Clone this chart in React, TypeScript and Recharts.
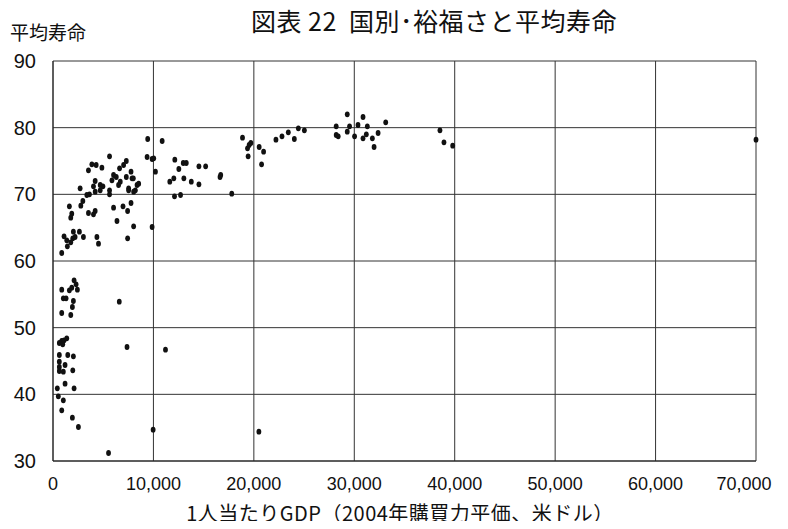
import { ScatterChart, Scatter, XAxis, YAxis, CartesianGrid } from "recharts";

// 1人当たりGDP (2004年購買力平価、米ドル) と平均寿命 — 国別
const gdpPerCapita = [
  // high income
  9430, 10870, 9370, 9870, 10200, 12130, 12530, 12970, 13270, 11630, 12030, 13030,
  13770, 14530, 14530, 15200, 12100, 12700, 16630, 16700, 17800, 18870, 19370, 19530,
  19700, 19430, 20530, 20970, 20770, 22200, 22800, 23430, 24030, 24430, 25030, 28200,
  28200, 28400, 29300, 29530, 29300, 30030, 30370, 30870, 31300, 31200, 30870, 31800,
  31970, 32370, 33130, 38530, 38930, 39800, 70000,
  // 70s
  5630, 3870, 4300, 4870, 3530, 7300, 7030, 6630, 7770, 6030, 6300, 7300, 7870, 8000,
  5870, 6700, 6530, 4200, 4700, 4970, 4030, 2700, 3630, 4200, 4700, 5630, 5630, 7530,
  8370, 8200, 8530, 8030, 7530, 10030, 3370,
  // 60s
  2970, 2770, 1630, 1870, 1770, 3530, 4030, 4200, 6030, 6970, 7430, 7770, 6370, 8030,
  9870, 7430, 1100, 1370, 1430, 1770, 1970, 2200, 2030, 2630, 3030, 4370, 4530, 870,
  // 50s
  2100, 2300, 2430, 1870, 1630, 870, 1030, 1300, 2030, 1930, 1770, 870, 6600,
  // 30s-40s
  630, 870, 1100, 1370, 970, 7370, 11200, 630, 1470, 2030, 630, 630, 630, 1200, 1030,
  1970, 1200, 2100, 430, 530, 1030, 870, 1930, 2530, 5530, 9970, 20500,
];

const lifeExpectancy = [
  78.3, 78.0, 75.6, 75.3, 73.4, 75.2, 73.8, 74.7, 74.7, 71.9, 72.4, 72.4,
  71.9, 71.5, 74.2, 74.2, 69.7, 69.9, 72.6, 72.9, 70.1, 78.5, 76.9, 77.4,
  77.7, 75.7, 77.1, 76.4, 74.5, 78.2, 78.7, 79.3, 78.3, 79.9, 79.6, 80.2,
  78.9, 78.7, 82.0, 80.2, 79.4, 78.7, 80.4, 81.6, 80.2, 79.0, 78.4, 78.4,
  77.1, 79.2, 80.8, 79.6, 77.8, 77.3, 78.2,
  75.7, 74.5, 74.4, 74.0, 73.6, 75.0, 74.4, 73.9, 73.4, 72.9, 72.6, 72.6, 72.4, 72.4,
  72.1, 71.9, 71.4, 72.0, 71.4, 71.2, 71.2, 70.9, 70.0, 70.4, 70.6, 70.6, 70.0, 70.9,
  71.4, 70.6, 71.6, 70.4, 70.6, 75.4, 69.9,
  69.0, 68.3, 68.2, 67.1, 66.5, 67.2, 67.0, 67.5, 68.0, 68.2, 67.5, 68.7, 66.0, 65.2,
  65.1, 63.4, 63.7, 63.1, 62.2, 62.8, 63.4, 63.6, 64.4, 64.4, 63.6, 63.6, 62.6, 61.2,
  57.1, 56.5, 55.7, 56.0, 55.6, 55.7, 54.4, 54.4, 54.0, 53.1, 51.9, 52.2, 53.9,
  47.7, 48.0, 48.1, 48.4, 47.5, 47.1, 46.7, 45.9, 45.9, 45.7, 44.9, 44.1, 43.5, 44.4, 43.4,
  43.6, 41.6, 40.9, 40.9, 39.7, 39.1, 37.6, 36.5, 35.1, 31.2, 34.7, 34.4,
];

const xTicks = [0, 10000, 20000, 30000, 40000, 50000, 60000, 70000];
const yTicks = [30, 40, 50, 60, 70, 80, 90];

const data = gdpPerCapita.map((gdp, i) => ({ gdp, life: lifeExpectancy[i] }));

const jpFont = "'Noto Sans CJK JP', sans-serif";
const numFont = "'Liberation Sans', Arial, sans-serif";

function Marker(props: any) {
  const { cx, cy } = props;
  if (cx == null || cy == null) return null;
  return <ellipse cx={cx} cy={cy} rx={2.4} ry={2.9} fill="#111" />;
}

// last label is pulled in so it stays on the page
function XTick(props: any) {
  const { x, y, payload } = props;
  const v = payload.value as number;
  const shift = v === 70000 ? -12 : 0;
  return (
    <text
      x={x + shift}
      y={y + 21}
      textAnchor="middle"
      dominantBaseline="central"
      fontSize={18}
      fill="#111"
      fontFamily={numFont}
    >
      {v.toLocaleString("en-US")}
    </text>
  );
}

export default function App() {
  return (
    <div
      style={{
        position: "relative",
        width: 788,
        height: 529,
        margin: -8,
        background: "#fff",
        overflow: "hidden",
      }}
    >
      <div
        style={{
          position: "absolute",
          left: 0,
          width: 868,
          top: 5,
          textAlign: "center",
          fontFamily: jpFont,
          fontSize: 25,
          letterSpacing: 0.5,
          lineHeight: "30px",
          color: "#111",
          whiteSpace: "pre",
        }}
      >
        図表 22  国別･裕福さと平均寿命
      </div>
      <div
        style={{
          position: "absolute",
          left: 10,
          top: 21,
          fontFamily: jpFont,
          fontSize: 19,
          lineHeight: "22px",
          color: "#111",
        }}
      >
        平均寿命
      </div>
      <ScatterChart
        width={788}
        height={529}
        margin={{ top: 61, right: 32, bottom: 38, left: 13 }}
      >
        <CartesianGrid stroke="#333" strokeWidth={1} />
        <XAxis
          type="number"
          dataKey="gdp"
          domain={[0, 70000]}
          ticks={xTicks}
          height={30}
          tickLine={false}
          tickSize={0}
          axisLine={{ stroke: "#222" }}
          tick={<XTick />}
          interval={0}
        />
        <YAxis
          type="number"
          dataKey="life"
          domain={[30, 90]}
          ticks={yTicks}
          width={40}
          tickLine={false}
          tickSize={0}
          tickMargin={17}
          axisLine={{ stroke: "#222" }}
          tick={{ fontSize: 20, fill: "#111", fontFamily: numFont }}
          interval={0}
        />
        <Scatter data={data} shape={Marker} isAnimationActive={false} />
      </ScatterChart>
      <div
        style={{
          position: "absolute",
          left: 0,
          width: 800,
          top: 502,
          textAlign: "center",
          fontFamily: jpFont,
          fontSize: 20,
          letterSpacing: 0.5,
          lineHeight: "22px",
          color: "#111",
        }}
      >
        1人当たりGDP（2004年購買力平価、米ドル）
      </div>
    </div>
  );
}
